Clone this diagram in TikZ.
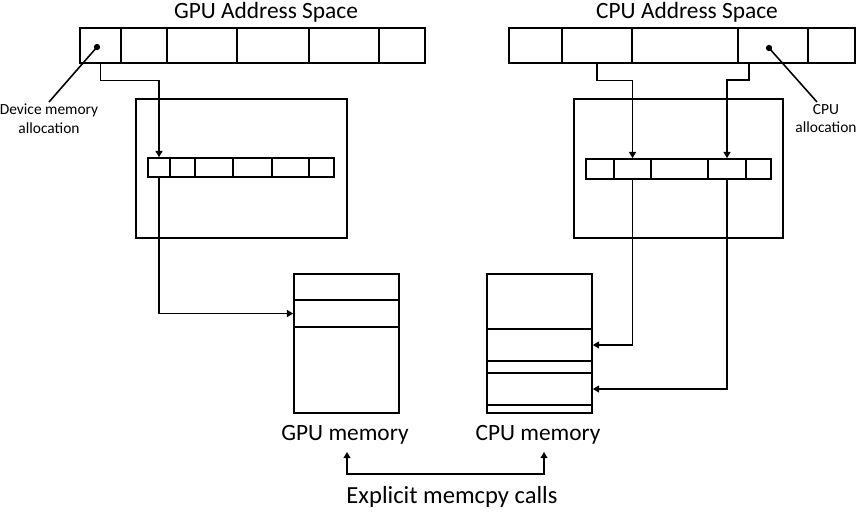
\documentclass[tikz,border=0pt]{standalone}
\usepackage{fontspec}
\setmainfont{Carlito}
\usetikzlibrary{positioning,fit,calc,arrows.meta}

\tikzset{
  cell/.style={draw,line width=1pt,inner sep=0pt},
  link/.style={line width=0.6pt,-{Triangle[length=3.5pt,width=4pt]}},
  big/.style={font=\fontsize{13.3}{15}\selectfont,anchor=base},
  small/.style={font=\fontsize{8.8}{10.5}\selectfont,align=center,anchor=north,inner sep=1pt}
}

\begin{document}
\begin{tikzpicture}[x=0.02cm,y=-0.02cm]
  \useasboundingbox (0,0) rectangle (858,511);

  % 地址空间
  \node[big] (gtitle) at (266,18) {GPU Address Space};
  \node[big] (ctitle) at (687,18) {CPU Address Space};
  \foreach \a/\b [count=\i] in {80/121,121/167,167/237,237/309,309/379,379/425}
    \node[cell,fit={(\a,28) (\b,63)}] (g\i) {};
  \foreach \a/\b [count=\i] in {509/562,562/632,632/738,738/808,808/855}
    \node[cell,fit={(\a,28) (\b,63)}] (c\i) {};

  % 页表
  \node[cell,fit={(136,99) (347,238)}] (gbox) {};
  \node[cell,fit={(574,99) (783,238)}] (cbox) {};
  \foreach \a/\b [count=\i] in {148/170,170/195,195/233,233/272,272/309,309/334}
    \node[cell,fit={(\a,158) (\b,177)}] (gi\i) {};
  \foreach \a/\b [count=\i] in {586/614,614/651,651/708,708/746,746/771}
    \node[cell,fit={(\a,159) (\b,179)}] (ci\i) {};

  % 物理内存
  \foreach \a/\b [count=\i] in {274/300,300/327,327/413}
    \node[cell,fit={(294,\a) (399,\b)}] (gm\i) {};
  \foreach \a/\b [count=\i] in {274/329,329/361,361/373,373/405,405/413}
    \node[cell,fit={(487,\a) (592,\b)}] (cm\i) {};
  \node[big] (gmem) at (345,440) {GPU memory};
  \node[big] (cmem) at (538,440) {CPU memory};

  % 标注
  \coordinate (gdot) at (97,47);
  \coordinate (cdot) at (769,48);
  \fill (gdot) circle (1.8pt);
  \fill (cdot) circle (1.8pt);
  \node[small] (glabel) at (49,102) {Device memory\\allocation};
  \node[small] (clabel) at (826,102) {CPU\\allocation};
  \draw[line width=0.9pt] (gdot) -- (glabel.north);
  \draw[line width=0.9pt] (cdot) -- ($(clabel.north)+(-9,0)$);

  % 映射
  \draw[link] (g1.south) -- ++(0,17) -| (gi1.north);
  \draw[link] (gi1.south) |- (gm2.west);
  \coordinate (c4out) at (749,63);
  \draw[link] (c2.south) -- ++(0,17) -| (ci2.north);
  \draw[link] (c4out) -- ++(0,17) -| (ci4.north);
  \draw[link] (ci2.south) |- (cm2.east);
  \draw[link] (ci4.south) |- (cm4.east);

  % 拷贝
  \coordinate (m1) at (347,452);
  \coordinate (m2) at (544,452);
  \draw[link,{Triangle[length=3.5pt,width=4pt]}-{Triangle[length=3.5pt,width=4pt]}] (m1) -- ++(0,22) -| (m2);
  \node[big,font=\fontsize{14}{16}\selectfont] (copy) at (452,503) {Explicit memcpy calls};
\end{tikzpicture}
\end{document}
